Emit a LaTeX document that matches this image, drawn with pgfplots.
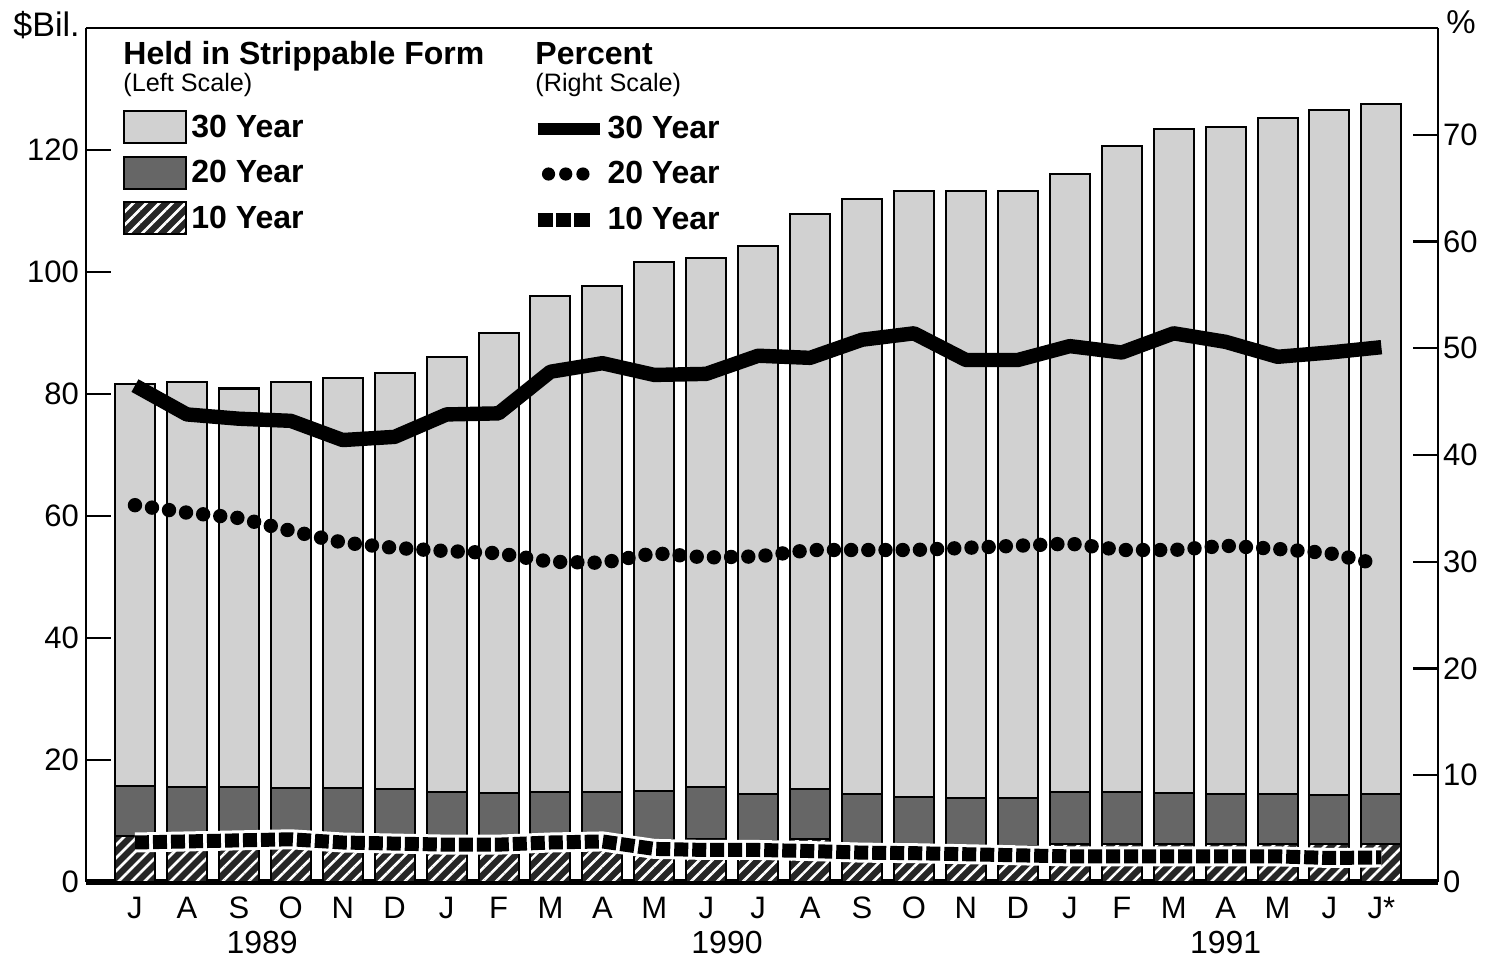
\documentclass[border=0pt]{standalone}
\usepackage{fontspec}
\setmainfont{Liberation Sans}
\usepackage{pgfplots}
\pgfplotsset{compat=1.18}
\usepackage{pgfplotstable}
\usetikzlibrary{patterns.meta}

% $Bil. held in strippable form (10/20/30 year), and percent stripped
\pgfplotstableread{
idx ten twenty thirty pten ptwenty pthirty
0  7.5 8.2 66.0  3.7 35.3 46.5
1  7.5 8.1 66.4  3.8 34.6 43.8
2  7.5 8.1 65.3  3.9 34.1 43.4
3  7.6 7.8 66.5  4.0 32.9 43.2
4  7.3 8.1 67.3  3.7 31.8 41.4
5  7.2 8.0 68.3  3.6 31.3 41.7
6  7.1 7.7 71.2  3.5 31.0 43.8
7  7.0 7.6 75.4  3.5 30.8 43.9
8  7.2 7.6 81.2  3.7 30.0 47.8
9  7.2 7.6 82.9  3.8 29.9 48.6
10 6.9 8.0 86.7  3.1 30.8 47.5
11 7.1 8.5 86.7  3.0 30.4 47.6
12 6.8 7.7 89.7  3.0 30.5 49.3
13 7.0 8.3 94.2  2.9 31.1 49.1
14 6.3 8.2 97.4  2.75 31.1 50.8
15 6.0 7.9 99.3  2.7 31.1 51.4
16 5.9 7.8 99.5  2.6 31.3 48.9
17 5.9 7.8 99.5  2.5 31.5 48.9
18 6.2 8.6 101.2 2.4 31.7 50.2
19 6.2 8.6 105.8 2.4 31.1 49.6
20 6.2 8.4 108.8 2.4 31.1 51.4
21 6.3 8.2 109.2 2.4 31.5 50.6
22 6.3 8.2 110.7 2.4 31.2 49.2
23 6.2 8.0 112.4 2.25 30.8 49.6
24 6.2 8.3 113.1 2.3 29.7 50.1
}\strips

\pgfplotsset{
  common/.style={
    scale only axis, width=676pt, height=427pt,
    xmin=-0.943, xmax=25.09, ymin=0,
    clip=false,
    tick align=inside, major tick length=12.5pt,
    tick style={line width=1.1pt, black},
    axis line style={line width=1.2pt},
    /pgf/number format/assume math mode=true,
    tick label style={font=\fontsize{15.5}{17}\selectfont},
    legend cell align=left,
    legend style={draw=none, fill=none, inner sep=0pt, anchor=north west,
      row sep=5.75pt, column sep=1.5pt, nodes={inner sep=0.5pt},
      font=\bfseries\fontsize{16}{18}\selectfont},
  },
  barleg/.style={legend image code/.code={\draw[##1] (0pt,-8pt) rectangle (31pt,8pt);}},
  % legend images for the percent lines, drawn in a fixed 31pt x 16pt cell
  linleg/.style={black, legend image code/.code={\draw[opacity=0, line width=0pt] (0pt,-8pt) rectangle (31pt,8pt);
      \draw[black, line width=6pt] (0pt,0pt) -- (31pt,0pt);}},
  dotleg/.style={black, legend image code/.code={\draw[opacity=0, line width=0pt] (0pt,-8pt) rectangle (31pt,8pt);
      \draw[black, line width=6.6pt, line cap=round, dash pattern=on 0pt off 8.6pt] (5.5pt,0pt) -- (23pt,0pt);}},
  sqleg/.style={black, legend image code/.code={\draw[opacity=0, line width=0pt] (0pt,-8pt) rectangle (31pt,8pt);
      \draw[black, line width=7pt, dash pattern=on 7.6pt off 1.6pt] (0pt,0pt) -- (27pt,0pt);}},
}

\begin{document}
\begin{tikzpicture}
\begin{axis}[common,
  ymax=140, ytick={0,20,...,120},
  axis x line*=bottom, axis y line*=left,
  x axis line style={line width=2.6pt},
  xtick={0,...,24},
  xticklabels={J,A,S,O,N,D,J,F,M,A,M,J,J,A,S,O,N,D,J,F,M,A,M,J,J*},
  xtick style={draw=none},
  xticklabel style={anchor=base, yshift=-18.5pt},
  ybar stacked, bar width=20pt,
  reverse legend,
  legend style={at={(0.0274,0.904)}},
]
\addplot[barleg, draw=black, line width=1pt, fill=black!85,
  postaction={pattern={Lines[angle=45,distance=4.6pt,line width=1.3pt]}, pattern color=white}]
  table[x=idx, y=ten] {\strips};
\addlegendentry{10 Year}
\addplot[barleg, draw=black, line width=1pt, fill=black!60]
  table[x=idx, y=twenty] {\strips};
\addlegendentry{20 Year}
\addplot[barleg, draw=black, line width=1pt, fill=black!18]
  table[x=idx, y=thirty] {\strips};
\addlegendentry{30 Year}

\coordinate (bl) at (rel axis cs:0,0);
\coordinate (tr) at (rel axis cs:1,1);
\node[anchor=base west, inner sep=0pt, font=\bfseries\fontsize{16}{18}\selectfont]
  at (rel axis cs:0.0274,0.9578) {Held in Strippable Form};
\node[anchor=base west, inner sep=0pt, font=\fontsize{12.6}{14}\selectfont]
  at (rel axis cs:0.0274,0.9262) {(Left Scale)};
\node[anchor=base west, inner sep=0pt, font=\bfseries\fontsize{16}{18}\selectfont]
  at (rel axis cs:0.3321,0.9578) {Percent};
\node[anchor=base west, inner sep=0pt, font=\fontsize{12.6}{14}\selectfont]
  at (rel axis cs:0.3321,0.9262) {(Right Scale)};
\node[anchor=base east, inner sep=0pt, font=\fontsize{17}{19}\selectfont]
  at (rel axis cs:0,1) [xshift=-3pt, yshift=-4.5pt] {\$Bil.};
\node[anchor=base west, inner sep=0pt, font=\fontsize{16.5}{19}\selectfont]
  at (rel axis cs:1,1) [xshift=4pt, yshift=-3pt] {\%};
\node[anchor=base, font=\fontsize{16}{18}\selectfont] at (axis cs:2.45,0) [yshift=-36pt] {1989};
\node[anchor=base, font=\fontsize{16}{18}\selectfont] at (axis cs:11.4,0) [yshift=-36pt] {1990};
\node[anchor=base, font=\fontsize{16}{18}\selectfont] at (axis cs:21,0) [yshift=-36pt] {1991};
\end{axis}

\begin{axis}[common,
  ymax=80, ytick={0,10,...,70},
  axis x line*=top, axis y line*=right,
  xtick=\empty,
  yticklabel style={xshift=-1pt},
  legend style={at={(0.3285,0.9015)}, row sep=6.75pt, column sep=0.5pt},
]
\addplot[forget plot, black, line width=7.2pt, line join=round]
  table[x=idx, y=pthirty] {\strips};
\addplot[forget plot, black, line width=7.2pt, line cap=round, dash pattern=on 0pt off 8.6pt]
  table[x=idx, y=ptwenty] {\strips};
\addplot[forget plot, black, line width=7pt, dash pattern=on 7pt off 2pt,
  preaction={draw=white, solid, line width=10pt}]
  table[x=idx, y=pten] {\strips};
\addlegendimage{linleg}
\addlegendentry{30 Year}
\addlegendimage{dotleg}
\addlegendentry{20 Year}
\addlegendimage{sqleg}
\addlegendentry{10 Year}
\end{axis}

\pgfresetboundingbox
\path ([shift={(-43pt,-39.5pt)}]bl) rectangle ([shift={(23.5pt,14pt)}]tr);
\end{tikzpicture}
\end{document}
